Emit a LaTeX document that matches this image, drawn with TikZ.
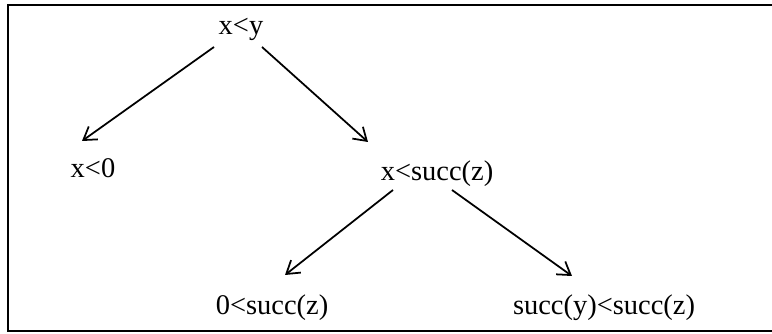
\documentclass[tikz,border=0pt]{standalone}
\usepackage{fontspec}
\setmainfont{Liberation Serif}
\usepackage{tikz}
\usetikzlibrary{arrows.meta,calc,positioning}
\tikzset{>={Straight Barb[length=7pt,width=9pt]}}

\begin{document}
\begin{tikzpicture}[x=0.02cm,y=-0.02cm,
    term/.style={anchor=base,inner sep=0pt,font=\fontsize{16.2}{19}\selectfont},
    edge/.style={->,line width=1pt}]
  \useasboundingbox (0,0) rectangle (772,334);
  % frame, open on the right
  \draw[line width=1.2pt] (772,5)--(8,5)--(8,331)--(772,331);
  % nodes
  \node[term] (xy) at (241,35)  {x<y};
  \node[term] (x0) at (93,178)  {x<0};
  \node[term] (xs) at (437,181) {x<succ(z)};
  \node[term] (zs) at (272,315) {0<succ(z)};
  \node[term] (ss) at (604,315) {succ(y)<succ(z)};
  % arrows
  \draw[edge] ($(xy.base)+(-27,12)$) -- ($(x0.base)+(-11,-37)$);
  \draw[edge] ($(xy.base)+(21,12)$)  -- ($(xs.base)+(-69,-39)$);
  \draw[edge] ($(xs.base)+(-44,9)$)  -- ($(zs.base)+(13,-40)$);
  \draw[edge] ($(xs.base)+(15,9)$)   -- ($(ss.base)+(-32,-39)$);
\end{tikzpicture}
\end{document}
